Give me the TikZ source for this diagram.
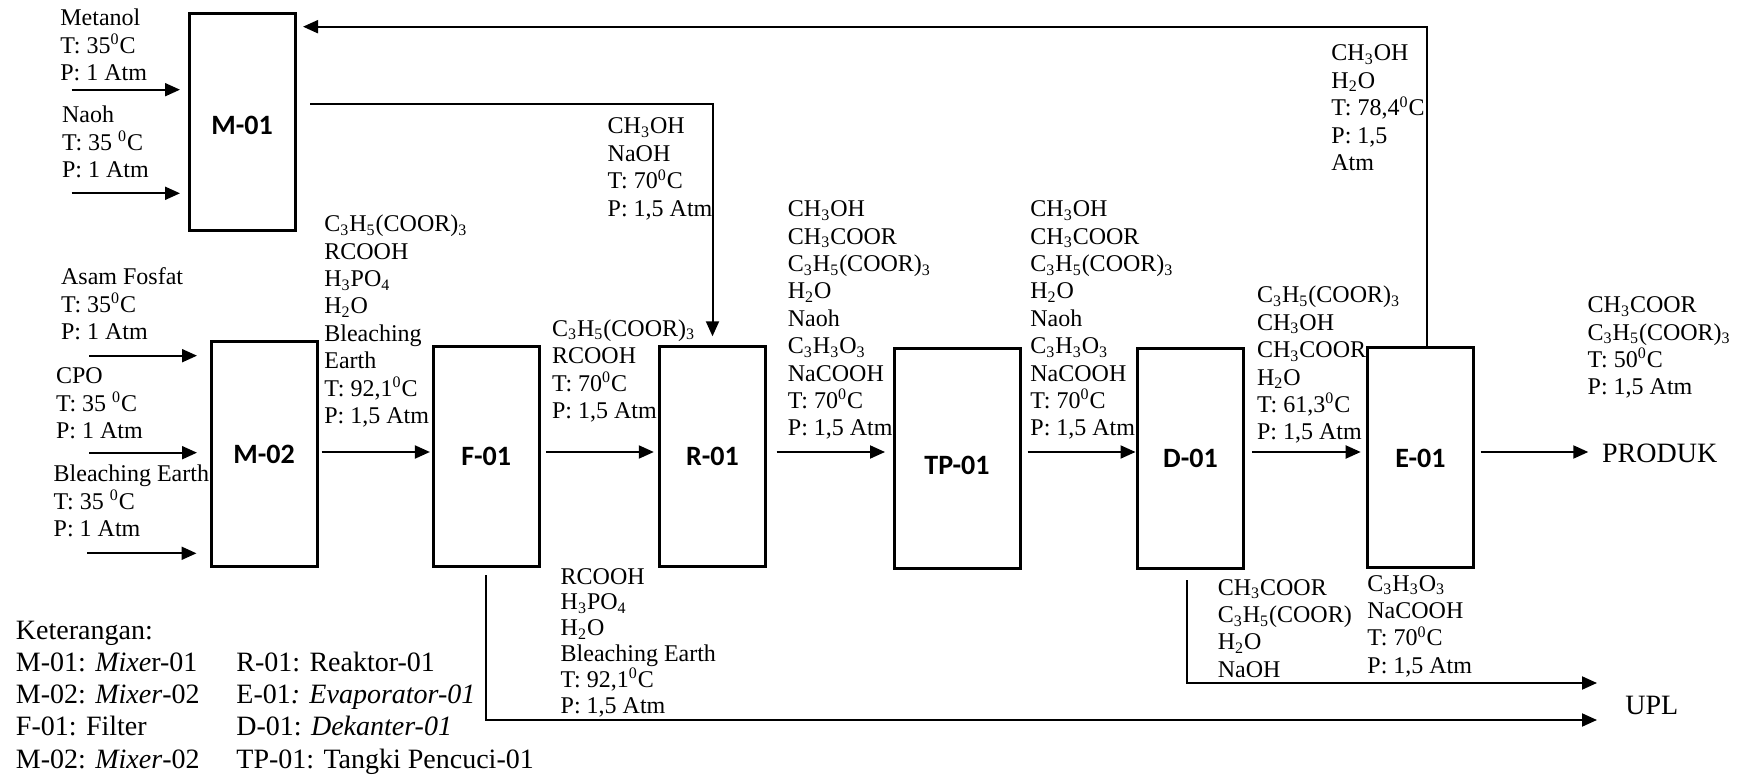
\documentclass[tikz,border=0pt]{standalone}
\usepackage{fontspec}
\setmainfont{Liberation Serif}
\newfontfamily\boxfont{Carlito}
\usepackage{tikz}
\usetikzlibrary{arrows.meta}
\tikzset{unit/.style={draw, line width=1.5pt, minimum width=53pt, minimum height=110pt,
    inner sep=0pt, font=\boxfont\bfseries\fontsize{14}{16}\selectfont},
  stream/.style={anchor=base west, align=left, inner sep=0pt, font=\fontsize{12}{13.7}\selectfont},
  sink/.style={anchor=base west, inner sep=0pt, font=\fontsize{14}{16}\selectfont},
  legend/.style={anchor=base west, align=left, inner sep=0pt, font=\fontsize{14}{16.1}\selectfont},
  flow/.style={->, line width=1pt}}
\newcommand{\sbt}[1]{\textsubscript{#1}}
\newcommand{\zsup}{\textsuperscript{0}}

\begin{document}
\begin{tikzpicture}[x=0.5pt, y=-0.5pt, >={Triangle[length=7.5pt, width=6.5pt]}]
      \useasboundingbox (0, 0) rectangle (1749, 779);
      \coordinate (main) at (0, 452);
      \coordinate (feed) at (0, 104.3);
      \coordinate (back) at (0, 26.7);

      % text nodes sit on the baseline of their last line
      \node [unit, minimum height=108.4pt, text height=12.5pt] (m01) at (242, 121.7) {M-01};
      \node [unit, minimum height=112.4pt] (m02) at (264, 454.3) {M-02};
      \node [unit] (f01) at (486.2, 456.2) {F-01};
      \node [unit] (r01) at (712.5, 456.3) {R-01};
      \node [unit, minimum width=63pt, text height=16.5pt] (tp01) at (957, 458.2) {TP-01};
      \node [unit] (d01) at (1190.5, 458.7) {D-01};
      \node [unit] (e01) at (1420.5, 458) {E-01};

      % bahan masuk
      \node [stream] (metanol) at (60, 80.5) {Metanol\\T: 35\zsup C\\P: 1 Atm};
      \coordinate (in1) at (71.7, 89.7);
      \draw [flow, shorten >=3.75pt] (in1) -- (in1 -| m01.west);

      \node [stream] (naoh) at (61.7, 177.8) {Naoh\\T: 35 \zsup C\\P: 1 Atm};
      \coordinate (in2) at (71.7, 193.3);
      \draw [flow, shorten >=3.75pt] (in2) -- (in2 -| m01.west);

      \node [stream] (asam) at (60.7, 339.8) {Asam Fosfat\\T: 35\zsup C\\P: 1 Atm};
      \coordinate (in3) at (89, 355.7);
      \draw [flow, shorten >=6.25pt] (in3) -- (in3 -| m02.west);

      \node [stream] (cpo) at (55.7, 438.8) {CPO\\T: 35 \zsup C\\P: 1 Atm};
      \coordinate (in4) at (89, 452.7);
      \draw [flow, shorten >=6.25pt] (in4) -- (in4 -| m02.west);

      \node [stream] (bleach) at (53.3, 536.5) {Bleaching Earth\\T: 35 \zsup C\\P: 1 Atm};
      \coordinate (in5) at (87, 553.3);
      \draw [flow, shorten >=6.5pt] (in5) -- (in5 -| m02.west);

      % aliran utama
      \node [stream] (s1) at (324, 423.5) {C\sbt{3}H\sbt{5}(COOR)\sbt{3}\\RCOOH\\H\sbt{3}PO\sbt{4}\\H\sbt{2}O\\Bleaching\\Earth\\T: 92,1\zsup C\\P: 1,5 Atm};
      \draw [flow, shorten <=1.6pt, shorten >=0.9pt] (m02.east |- main) -- (f01.west |- main);

      \node [stream] (s2) at (551.7, 418.5) {C\sbt{3}H\sbt{5}(COOR)\sbt{3}\\RCOOH\\T: 70\zsup C\\P: 1,5 Atm};
      \draw [flow, shorten <=2.75pt, shorten >=2.1pt] (f01.east |- main) -- (r01.west |- main);

      \node [stream] (s3) at (787.5, 435.9) {CH\sbt{3}OH\\CH\sbt{3}COOR\\C\sbt{3}H\sbt{5}(COOR)\sbt{3}\\H\sbt{2}O\\Naoh\\C\sbt{3}H\sbt{3}O\sbt{3}\\NaCOOH\\T: 70\zsup C\\P: 1,5 Atm};
      \draw [flow, shorten <=4.75pt, shorten >=3.75pt] (r01.east |- main) -- (tp01.west |- main);

      \node [stream] (s4) at (1030, 435.9) {CH\sbt{3}OH\\CH\sbt{3}COOR\\C\sbt{3}H\sbt{5}(COOR)\sbt{3}\\H\sbt{2}O\\Naoh\\C\sbt{3}H\sbt{3}O\sbt{3}\\NaCOOH\\T: 70\zsup C\\P: 1,5 Atm};
      \draw [flow, shorten <=3.1pt, shorten >=0.25pt] (tp01.east |- main) -- (d01.west |- main);

      \node [stream] (s5) at (1256.7, 440) {C\sbt{3}H\sbt{5}(COOR)\sbt{3}\\CH\sbt{3}OH\\CH\sbt{3}COOR\\H\sbt{2}O\\T: 61,3\zsup C\\P: 1,5 Atm};
      \draw [flow, shorten <=3.45pt, shorten >=2.65pt] (d01.east |- main) -- (e01.west |- main);

      \node [stream] (s6) at (1587.3, 394.9) {CH\sbt{3}COOR\\C\sbt{3}H\sbt{5}(COOR)\sbt{3}\\T: 50\zsup C\\P: 1,5 Atm};
      \node [sink] (produk) at (1601.7, 462.7) {PRODUK};
      \draw [flow, shorten <=2.85pt, shorten >=6.7pt] (e01.east |- main) -- (produk.west |- main);

      % metanol ke reaktor dan recycle
      \node [stream] (s7) at (607.3, 216.2) {CH\sbt{3}OH\\NaOH\\T: 70\zsup C\\P: 1,5 Atm};
      \draw [flow, shorten <=6.75pt, shorten >=4.25pt] (m01.east |- feed) -- (r01.north |- feed) -- (r01.north);

      \node [stream] (s8) at (1331, 170.6) {CH\sbt{3}OH\\H\sbt{2}O\\T: 78,4\zsup C\\P: 1,5\\Atm};
      \draw [flow, shorten >=3.25pt] ([xshift=3.1pt]e01.north) -- ([xshift=3.1pt]e01.north |- back) -- (m01.east |- back);

      % buangan
      \node [stream, font=\fontsize{12}{12.9}\selectfont] (s9) at (560.3, 713) {RCOOH\\H\sbt{3}PO\sbt{4}\\H\sbt{2}O\\Bleaching Earth\\T: 92,1\zsup C\\P: 1,5 Atm};
      \node [stream] (s10) at (1217.4, 677.2) {CH\sbt{3}COOR\\C\sbt{3}H\sbt{5}(COOR)\\H\sbt{2}O\\NaOH};
      \node [stream] (s11) at (1367, 673.3) {C\sbt{3}H\sbt{3}O\sbt{3}\\NaCOOH\\T: 70\zsup C\\P: 1,5 Atm};
      \node [sink] (upl) at (1625, 714) {UPL};
      \coordinate (dout) at (1597, 683);
      \coordinate (fout) at (1597, 720);
      \draw [flow, shorten <=5pt] ([xshift=-1.6pt]d01.south) -- ([xshift=-1.6pt]d01.south |- dout) -- (dout);
      \draw [flow, shorten <=3.9pt] (f01.south) -- (f01.south |- fout) -- (fout);

      % keterangan
      \node [legend] (ket) at (15.6, 768) {Keterangan:\\M-01: \textit{Mixe}r-01\\M-02: \textit{Mixer}-02\\F-01: Filter\\M-02: \textit{Mixer}-02};
      \node [legend] (ket2) at (236, 768) {R-01: Reaktor-01\\E-01\textit{: Evaporator-01}\\D-01: \textit{Dekanter-01}\\TP-01: Tangki Pencuci-01};
    \end{tikzpicture}
\end{document}
